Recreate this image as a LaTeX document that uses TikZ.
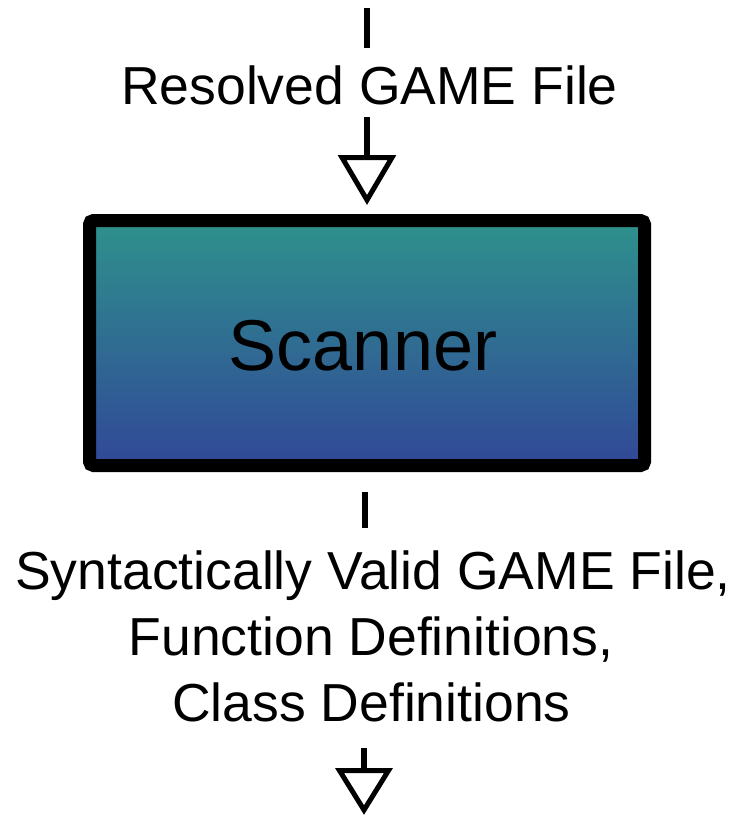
\documentclass[tikz,border=0pt]{standalone}
\usepackage{fontspec}
\setmainfont{Liberation Sans}
\begin{document}
\begin{tikzpicture}[x=1pt,y=-1pt,
  lbl/.style={anchor=base,inner sep=0pt,font=\fontsize{53.5}{64}\selectfont},
  conn/.style={line width=5.5pt},
  tri/.style={line width=5pt,line join=miter,fill=white},
  proc/.style={draw,line width=13pt,rounded corners=4pt,inner sep=0pt,outer sep=0pt,
    minimum width=555pt,minimum height=245pt,
    top color=topc,bottom color=botc},
  proctext/.style={inner sep=0pt,font=\fontsize{72}{80}\selectfont}]
\definecolor{topc}{RGB}{46,145,140}
\definecolor{botc}{RGB}{49,72,152}
\useasboundingbox (0,0) rectangle (741,816);
\fill[white] (0,0) rectangle (741,816);

% input
\node[lbl] (in) at (369.5,104.5) {Resolved GAME File};
\coordinate (a0) at (367,8);
\coordinate (a1) at (367,48);
\coordinate (a2) at (367,117);
\coordinate (a3) at (367,157.5);
\draw[conn] (a0) -- (a1);
\draw[conn] (a2) -- (a3);
\draw[tri] (342,157.5) -- (392,157.5) -- (367,200) -- cycle;

% scanner
\node[proc] (scan) at (367,343) {};
\node[proctext] (scanlbl) at (363,346) {Scanner};

% output
\coordinate (b0) at (365,492);
\coordinate (b1) at (365,528);
\draw[conn] (b0) -- (b1);
\node[lbl] (out1) at (373,589) {Syntactically Valid GAME File,};
\node[lbl] (out2) at (371,655) {Function Definitions,};
\node[lbl] (out3) at (371.5,721.5) {Class Definitions};
\coordinate (c0) at (364,748);
\coordinate (c1) at (364,770.5);
\draw[conn] (c0) -- (c1);
\draw[tri] (339.5,770.5) -- (388.5,770.5) -- (364,810) -- cycle;
\end{tikzpicture}
\end{document}
